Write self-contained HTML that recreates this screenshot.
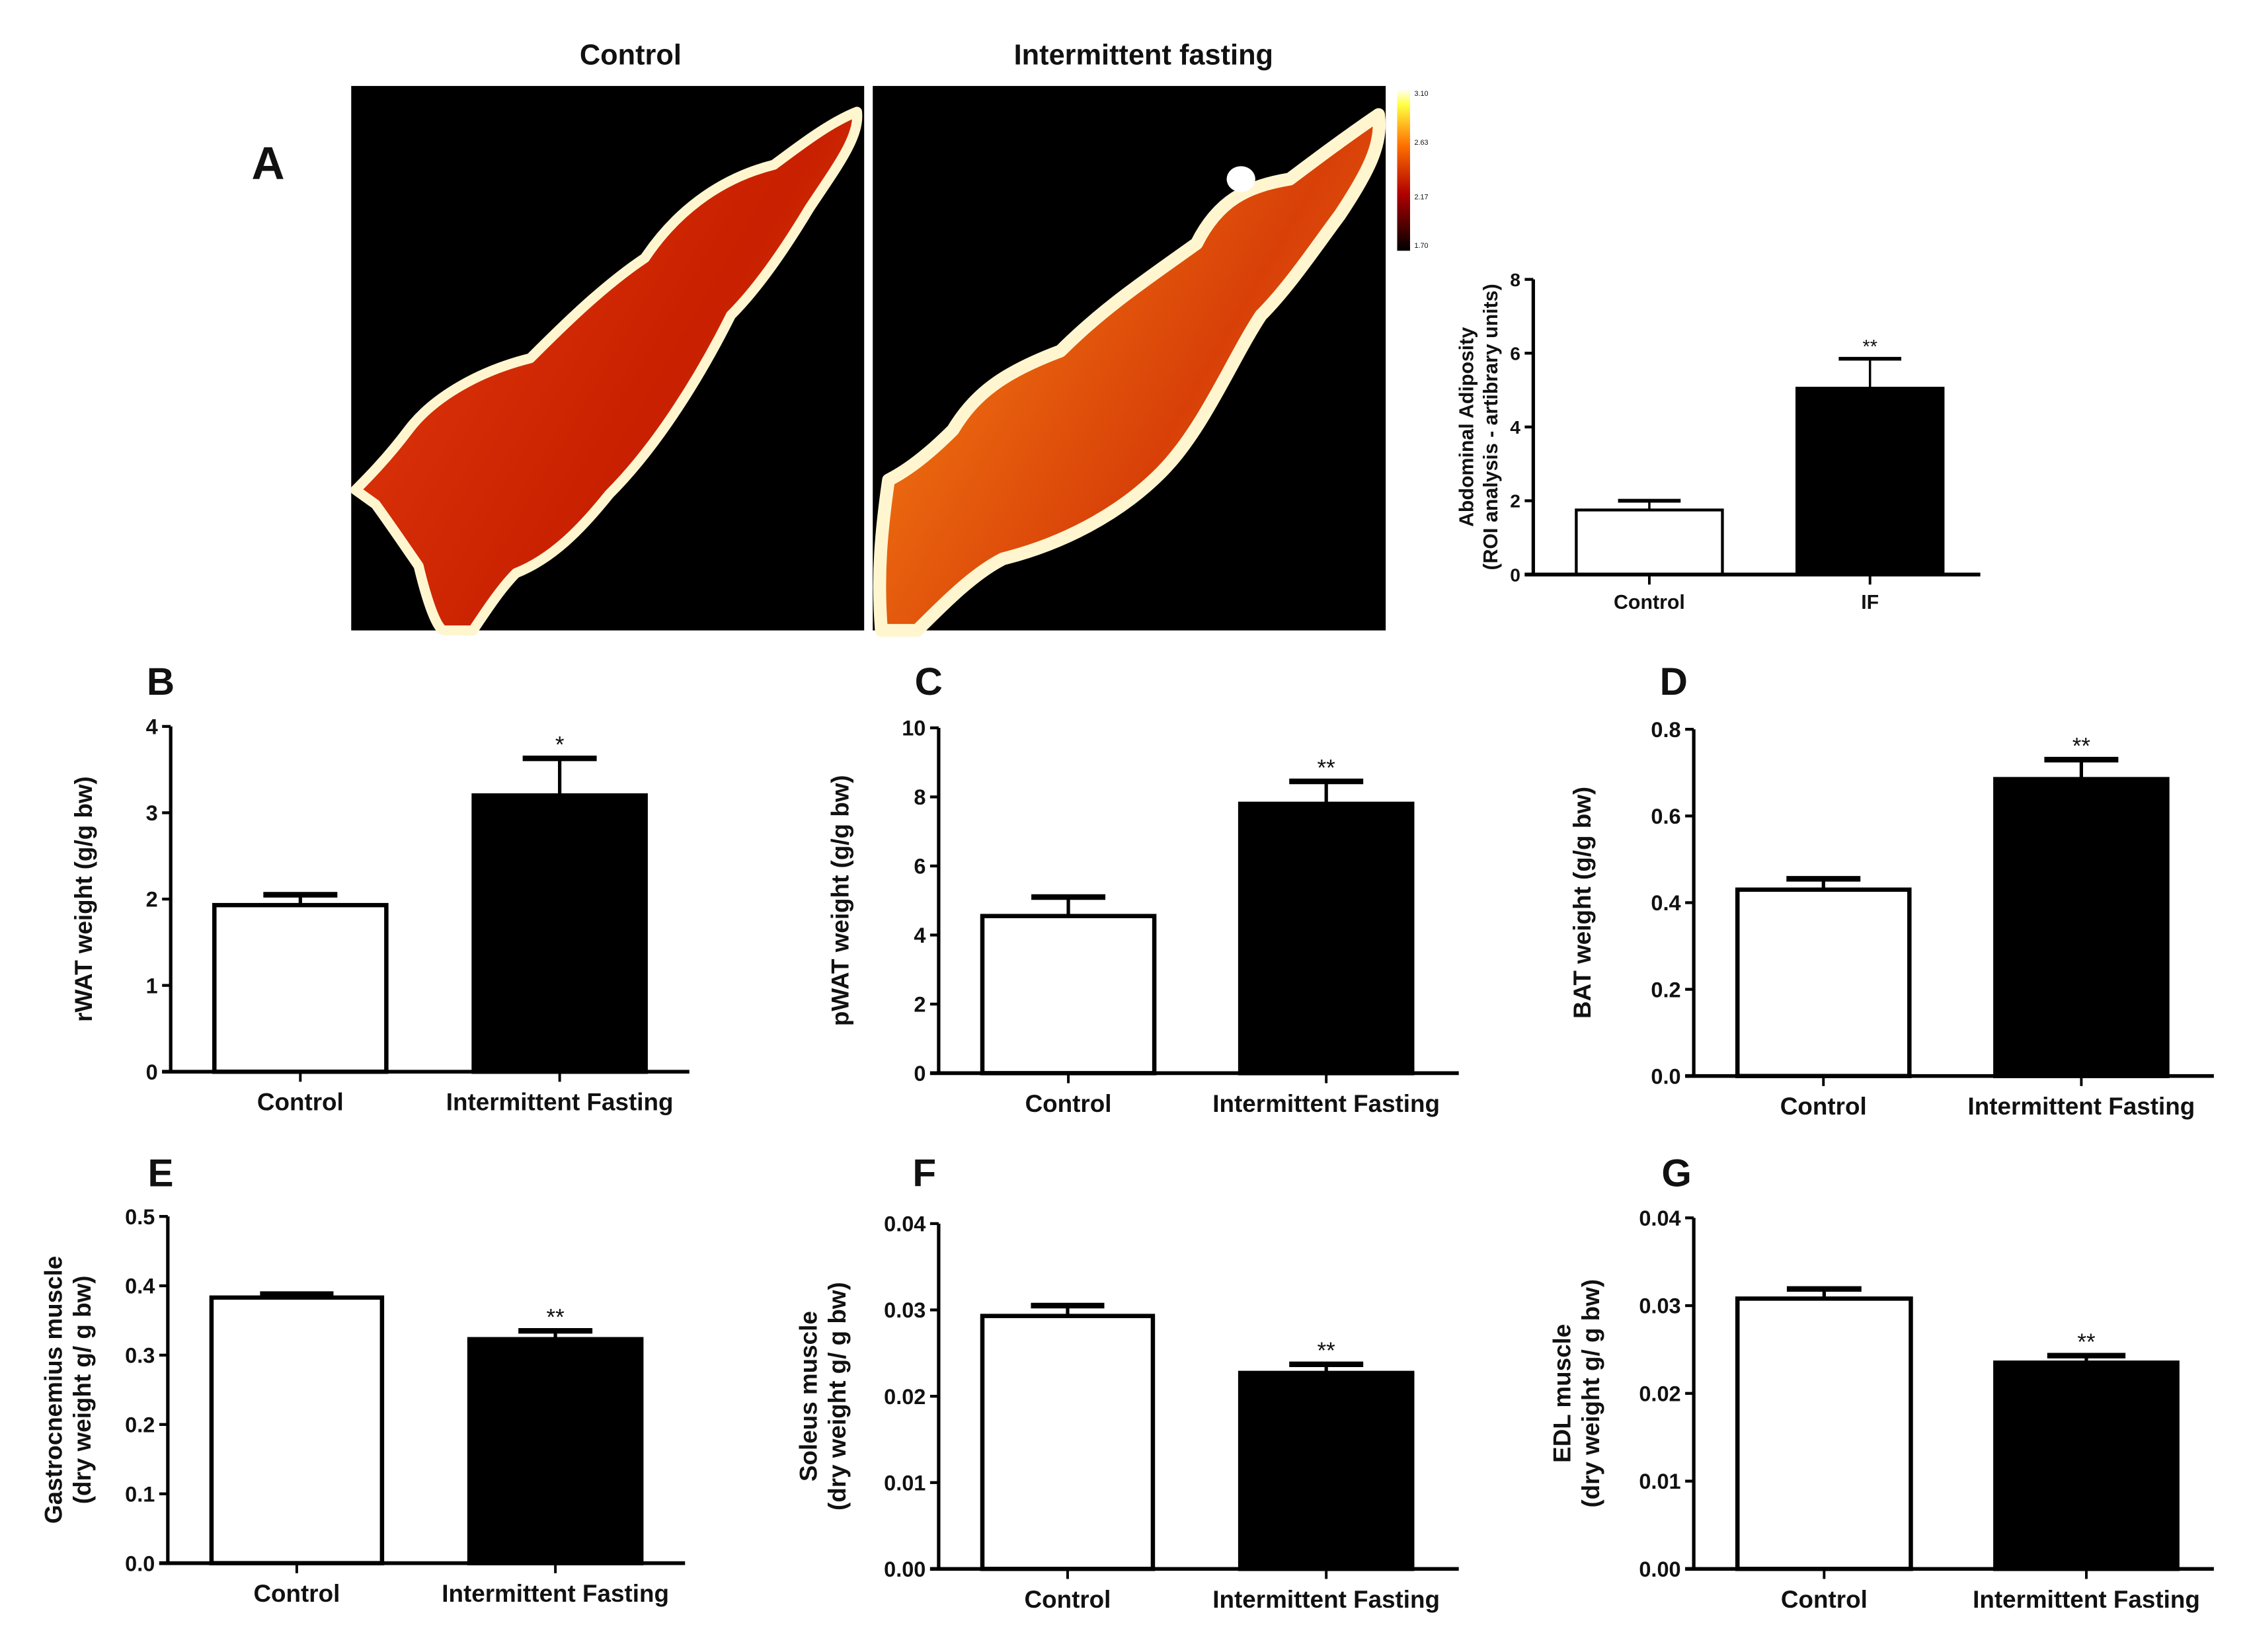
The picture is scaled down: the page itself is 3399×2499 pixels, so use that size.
<!DOCTYPE html>
<html><head><meta charset="utf-8">
<style>
html,body{margin:0;padding:0;background:#fff;}
svg{display:block;}
text{font-family:"Liberation Sans",Arial,sans-serif;fill:#111;}
</style></head>
<body>
<svg id="fig" width="3399" height="2499" viewBox="0 0 1568 1153" xmlns="http://www.w3.org/2000/svg">
<defs>
<linearGradient id="bodyG" x1="0" y1="0" x2="1" y2="0.6">
<stop offset="0" stop-color="#f07010"/><stop offset="0.3" stop-color="#d83008"/><stop offset="0.7" stop-color="#c82000"/><stop offset="1" stop-color="#e04010"/>
</linearGradient>
<linearGradient id="bodyG2" x1="0" y1="0" x2="1" y2="0.6">
<stop offset="0" stop-color="#f8a020"/><stop offset="0.3" stop-color="#ec6a10"/><stop offset="0.7" stop-color="#d84008"/><stop offset="1" stop-color="#e86010"/>
</linearGradient>
<linearGradient id="cbar" x1="0" y1="1" x2="0" y2="0">
<stop offset="0" stop-color="#000"/><stop offset="0.35" stop-color="#b00000"/><stop offset="0.65" stop-color="#ff7000"/><stop offset="0.9" stop-color="#ffff40"/><stop offset="1" stop-color="#fff"/>
</linearGradient>
</defs>
<g id="panelA-images">
<text x="440" y="45" font-size="20" font-weight="bold" text-anchor="middle">Control</text>
<text x="798" y="45" font-size="20" font-weight="bold" text-anchor="middle">Intermittent fasting</text>
<text x="187" y="125" font-size="32" font-weight="bold" text-anchor="middle">A</text>
<rect x="245" y="60" width="358" height="380" fill="#000"/>
<path d="M598,78 C580,85 560,100 540,115 C500,125 470,150 450,180 C420,200 390,230 370,250 C330,260 300,280 285,300 C270,320 255,335 248,342 L262,352 C275,370 285,385 292,395 C298,420 305,440 310,440 L330,440 C340,425 350,410 360,400 C385,390 405,370 425,345 C460,310 490,260 510,220 C530,200 550,170 565,145 C585,115 600,95 598,78 Z" fill="url(#bodyG)" stroke="#fff6d0" stroke-width="7" stroke-linejoin="round"/>
<rect x="609" y="60" width="358" height="380" fill="#000"/>
<path d="M962,80 C940,95 920,110 900,125 C870,130 850,140 835,170 C800,195 770,215 740,245 C700,260 680,275 665,300 C645,320 630,330 620,335 C615,370 612,400 615,440 L640,440 C660,420 680,400 700,390 C740,380 780,360 810,330 C840,300 860,250 880,220 C900,200 920,170 935,150 C955,120 965,100 962,80 Z" fill="url(#bodyG2)" stroke="#fff6d0" stroke-width="9" stroke-linejoin="round"/>
<ellipse cx="866" cy="125" rx="10" ry="9" fill="#fff"/>
<rect x="975" y="62" width="9" height="113" fill="url(#cbar)"/>
<text x="987" y="67" font-size="5">3.10</text>
<text x="987" y="101" font-size="5">2.63</text>
<text x="987" y="139" font-size="5">2.17</text>
<text x="987" y="173" font-size="5">1.70</text>
</g>
<g id="charts"></g>
</svg>
<script>
// Panel A chart
const aCategories = ["Control", "IF"];
const aValues = [1.75, 5.05];
const aErrors = [2.0, 5.85];
const aTicks = ["0", "2", "4", "6", "8"];
const aSig = ["", "**"];
// Panel B
const bCategories = ["Control", "Intermittent Fasting"];
const bValues = [1.93, 3.2];
const bErrors = [2.05, 3.63];
const bTicks = ["0", "1", "2", "3", "4"];
const bSig = ["", "*"];
// Panel C
const cCategories = ["Control", "Intermittent Fasting"];
const cValues = [4.55, 7.8];
const cErrors = [5.1, 8.45];
const cTicks = ["0", "2", "4", "6", "8", "10"];
const cSig = ["", "**"];
// Panel D
const dCategories = ["Control", "Intermittent Fasting"];
const dValues = [0.43, 0.685];
const dErrors = [0.455, 0.73];
const dTicks = ["0.0", "0.2", "0.4", "0.6", "0.8"];
const dSig = ["", "**"];
// Panel E
const eCategories = ["Control", "Intermittent Fasting"];
const eValues = [0.383, 0.323];
const eErrors = [0.388, 0.335];
const eTicks = ["0.0", "0.1", "0.2", "0.3", "0.4", "0.5"];
const eSig = ["", "**"];
// Panel F
const fCategories = ["Control", "Intermittent Fasting"];
const fValues = [0.0293, 0.0227];
const fErrors = [0.0305, 0.0237];
const fTicks = ["0.00", "0.01", "0.02", "0.03", "0.04"];
const fSig = ["", "**"];
// Panel G
const gCategories = ["Control", "Intermittent Fasting"];
const gValues = [0.0308, 0.0235];
const gErrors = [0.0319, 0.0243];
const gTicks = ["0.00", "0.01", "0.02", "0.03", "0.04"];
const gSig = ["", "**"];

const NS = "http://www.w3.org/2000/svg";
const root = document.getElementById("charts");
function mk(parent, tag, attrs, txt) {
  const e = document.createElementNS(NS, tag);
  for (const k in attrs) e.setAttribute(k, attrs[k]);
  if (txt !== undefined) e.textContent = txt;
  parent.appendChild(e);
  return e;
}
function drawChart(id, cfg, cats, vals, errs, ticks, sig) {
  const g = mk(root, "g", {});
  
  
  const tmin = parseFloat(ticks[0]), tmax = parseFloat(ticks[ticks.length - 1]);
  const y = v => cfg.y0 + (cfg.y1 - cfg.y0) * (v - tmin) / (tmax - tmin);
  const sw = cfg.sw;
  cats.forEach((c, i) => {
    const x0 = cfg.bars[i][0], x1 = cfg.bars[i][1], cx = (x0 + x1) / 2;
    const top = y(vals[i]), et = y(errs[i]);
    const cw = (x1 - x0) * 0.42;
    const el = mk(g, "line", {x1: cx, x2: cx, y1: top, y2: et, stroke: "#000", "stroke-width": sw * 0.8});
    
    
    const cap = mk(g, "line", {x1: cx - cw / 2, x2: cx + cw / 2, y1: et, y2: et, stroke: "#000", "stroke-width": sw * 1.3});
    
    
    const b = mk(g, "rect", {x: x0 + sw / 2, y: top, width: x1 - x0 - sw, height: cfg.y0 - top, fill: i === 0 ? "#fff" : "#000", stroke: "#000", "stroke-width": sw});
    
    
    if (sig[i]) {
      const s = mk(g, "text", {x: cx, y: et - 4, "font-size": cfg.fs * 0.95, "text-anchor": "middle"}, sig[i]);
      
      
    }
    const tk = mk(g, "line", {x1: cx, x2: cx, y1: cfg.y0, y2: cfg.y0 + 7, stroke: "#000", "stroke-width": 1.8});
    
    
    const lb = mk(g, "text", {x: cx, y: cfg.y0 + cfg.fs + 10, "font-size": cfg.fs, "font-weight": "bold", "text-anchor": "middle"}, c);
    
    
  });
  const ya = mk(g, "line", {x1: cfg.ax, x2: cfg.ax, y1: cfg.y1, y2: cfg.y0 + 1, stroke: "#000", "stroke-width": 2.4});
  
  
  const xa = mk(g, "line", {x1: cfg.ax - 6, x2: cfg.xr, y1: cfg.y0, y2: cfg.y0, stroke: "#000", "stroke-width": 2.6});
  
  
  ticks.forEach(t => {
    const yy = y(parseFloat(t));
    const tl = mk(g, "line", {x1: cfg.ax - 6, x2: cfg.ax, y1: yy, y2: yy, stroke: "#000", "stroke-width": 2});
    
    
    const tt = mk(g, "text", {x: cfg.ax - 9, y: yy + cfg.tfs * 0.36, "font-size": cfg.tfs, "font-weight": "bold", "text-anchor": "end"}, t);
    
    
  });
  const midY = (cfg.y0 + cfg.y1) / 2;
  cfg.title.forEach((line, k) => {
    const tx = cfg.tx + k * (cfg.fs + 3);
    const t = mk(g, "text", {x: tx, y: midY, "font-size": cfg.fs, "font-weight": "bold", "text-anchor": "middle", transform: "rotate(-90 " + tx + " " + midY + ")"}, line);
    
    
  });
  if (cfg.letter) {
    const L = mk(g, "text", {x: cfg.letter[0], y: cfg.letter[1], "font-size": 27, "font-weight": "bold", "text-anchor": "middle"}, cfg.letter[2]);
    
    
  }
}
drawChart("panel-a", {ax: 1070, xr: 1382, y0: 401, y1: 195, sw: 2, fs: 14, tfs: 13, tx: 1028, bars: [[1099, 1203], [1253, 1357]], title: ["Abdominal Adiposity", "(ROI analysis - artibrary units)"]}, aCategories, aValues, aErrors, aTicks, aSig);
drawChart("panel-b", {ax: 119, xr: 481, y0: 748, y1: 507, sw: 3, fs: 17, tfs: 15, tx: 64, bars: [[148, 271], [329, 452]], title: ["rWAT weight (g/g bw)"], letter: [112, 485, "B"]}, bCategories, bValues, bErrors, bTicks, bSig);
drawChart("panel-c", {ax: 655, xr: 1018, y0: 749, y1: 508, sw: 3, fs: 17, tfs: 15, tx: 592, bars: [[684, 807], [864, 987]], title: ["pWAT weight (g/g bw)"], letter: [648, 485, "C"]}, cCategories, cValues, cErrors, cTicks, cSig);
drawChart("panel-d", {ax: 1182, xr: 1545, y0: 751, y1: 509, sw: 3, fs: 17, tfs: 15, tx: 1110, bars: [[1211, 1334], [1391, 1514]], title: ["BAT weight (g/g bw)"], letter: [1168, 485, "D"]}, dCategories, dValues, dErrors, dTicks, dSig);
drawChart("panel-e", {ax: 117, xr: 478, y0: 1091, y1: 849, sw: 3, fs: 17, tfs: 15, tx: 43, bars: [[146, 268], [326, 449]], title: ["Gastrocnemius muscle", "(dry weight g/ g bw)"], letter: [112, 828, "E"]}, eCategories, eValues, eErrors, eTicks, eSig);
drawChart("panel-f", {ax: 655, xr: 1018, y0: 1095, y1: 854, sw: 3, fs: 17, tfs: 15, tx: 570, bars: [[684, 806], [864, 987]], title: ["Soleus muscle", "(dry weight g/ g bw)"], letter: [645, 828, "F"]}, fCategories, fValues, fErrors, fTicks, fSig);
drawChart("panel-g", {ax: 1182, xr: 1545, y0: 1095, y1: 850, sw: 3, fs: 17, tfs: 15, tx: 1096, bars: [[1211, 1335], [1391, 1521]], title: ["EDL muscle", "(dry weight g/ g bw)"], letter: [1170, 828, "G"]}, gCategories, gValues, gErrors, gTicks, gSig);
</script>
</body></html>
